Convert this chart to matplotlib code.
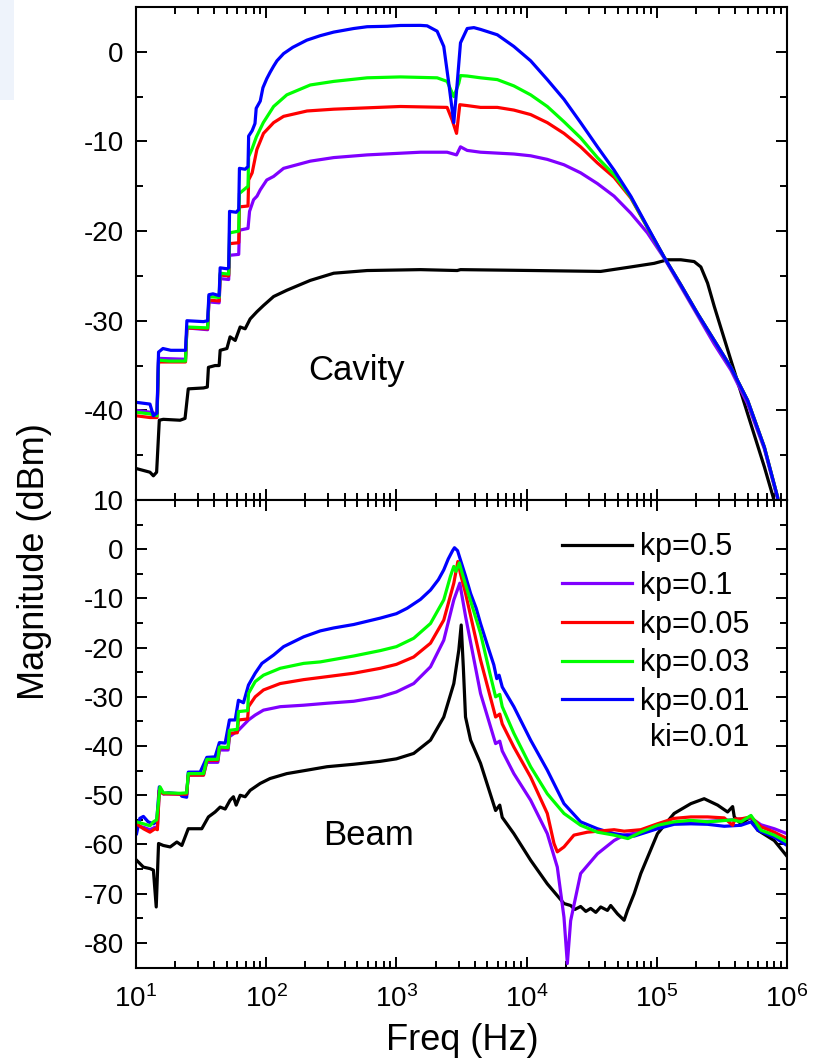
import matplotlib
matplotlib.use('Agg')
import matplotlib.pyplot as plt
from matplotlib.patches import Rectangle
from matplotlib.ticker import MultipleLocator, LogLocator, NullFormatter

# ---------------- data ----------------
labels = ['kp=0.5', 'kp=0.1', 'kp=0.05', 'kp=0.03', 'kp=0.01']
colors = ['#000000', '#8000ff', '#ff0000', '#00ff00', '#0000ff']

# Cavity panel
cav_f_kp05 = [10.1, 12.8, 13.6, 14.4, 15.1, 16.2, 21.8, 23.8, 25.2, 33, 35.3, 36, 40.5, 43.5, 44.3, 49.9,
              52.8, 57.8, 63.1, 68.9, 75.3, 84.8, 95.3, 114, 144, 218, 330, 596, 1530, 2931, 3106,
              11380, 37070, 63100, 95300, 120800, 153000, 193600, 217900, 245400, 276200, 370700,
              498900, 669900, 798000, 850000]
cav_m_kp05 = [-46.5, -46.9, -47.3, -46.9, -41.1, -41.0, -41.1, -40.9, -37.6, -37.5, -37.4, -35.2, -35.0, -35.0, -33.3, -33.1,
              -31.8, -32.2, -30.7, -30.9, -29.8, -29.0, -28.3, -27.3, -26.6, -25.5, -24.7, -24.4, -24.3, -24.4, -24.3,
              -24.4, -24.5, -24.0, -23.6, -23.2, -23.2, -23.4, -24.0, -25.8, -28.4, -34.4,
              -40.4, -46.3, -50.1, -51.5]

cav_f_kp01 = [10.0, 12.8, 14.5, 14.9, 24.0, 24.6, 35.5, 36.3, 43.5, 44.3, 51.5, 52.3, 61.5, 62.3, 72.5, 74.5,
              80, 85, 90, 101, 114, 136, 218, 330, 596, 1530, 2452, 2897, 3106, 3498, 4427, 7980, 10740,
              14420, 19370, 26000, 34990, 46970, 63100, 84700, 113800, 153000, 205600, 276200, 370700,
              498900, 669900, 847200, 880000]
cav_m_kp01 = [-40.0, -40.2, -40.4, -34.2, -34.3, -30.8, -31.0, -27.9, -28.0, -25.3, -25.4, -22.7, -22.6, -19.9, -19.7, -17.8,
              -16.5, -16.1, -15.4, -14.3, -13.9, -13.0, -12.2, -11.8, -11.5, -11.2, -11.2, -11.5, -10.6, -11.0, -11.2, -11.4, -11.6,
              -12.0, -12.6, -13.5, -14.7, -16.1, -18.0, -20.2, -23.0, -26.2, -29.4, -32.6, -35.5,
              -39.3, -44.3, -49.9, -51.5]

cav_f_kp005 = [10.0, 12.8, 14.5, 14.9, 24.0, 24.6, 35.5, 36.3, 43.5, 44.3, 51.5, 52.3, 61.5, 62.3, 72.5, 73.3,
               78, 84.8, 95.3, 114, 136, 206, 330, 1074, 2452, 2679, 2897, 3069, 3498, 4427, 5957, 7980,
               10740, 14420, 19370, 26000, 34990, 46970, 63100, 84700, 113800, 153000, 205600, 276200,
               370700, 498900, 669900, 847200, 880000]
cav_m_kp005 = [-40.6, -40.8, -40.8, -34.6, -34.6, -30.8, -30.9, -27.7, -27.8, -24.9, -25.0, -21.4, -21.3, -17.3, -17.2, -14.3,
               -13.5, -10.9, -9.1, -7.9, -7.2, -6.6, -6.4, -6.1, -6.2, -7.6, -9.1, -5.9, -6.0, -6.2, -6.2, -6.5,
               -7.0, -7.9, -9.1, -10.6, -12.4, -14.0, -16.3, -19.6, -22.9, -26.0, -29.2, -32.2,
               -35.2, -38.9, -44.1, -49.7, -51.5]

cav_f_kp003 = [10.0, 12.8, 14.5, 14.9, 18, 24.0, 24.6, 35.5, 36.3, 43.5, 44.3, 51.5, 52.3, 61.5, 62.3, 72.5,
               73.3, 78, 84, 95, 114, 144, 218, 330, 596, 1074, 2055, 2452, 2760, 3015, 3106, 3498, 4427,
               5957, 7980, 10740, 14420, 19370, 26000, 34990, 46970, 63100, 84700, 113800, 153000, 205600,
               276200, 370700, 498900, 669900, 847200, 880000]
cav_m_kp003 = [-40.2, -40.4, -40.6, -34.4, -34.5, -34.5, -30.7, -30.8, -27.3, -27.4, -24.7, -24.8, -20.2, -20.0, -15.8, -15.0,
               -11.7, -10.8, -9.5, -7.9, -6.1, -4.8, -3.7, -3.3, -2.9, -2.8, -2.9, -3.3, -5.0, -3.5, -2.65, -2.7, -2.9,
               -3.1, -3.8, -4.8, -6.1, -7.8, -9.6, -11.8, -13.7, -16.2, -19.6, -22.9, -26.0, -29.2,
               -32.2, -35.2, -38.9, -44.1, -49.7, -51.5]

cav_f_kp001 = [10.0, 12.8, 13.6, 14.5, 14.9, 16.1, 18.5, 24.0, 24.6, 33, 35.5, 36.3, 39, 43.5, 44.3, 49.9,
               51.5, 52.3, 58.8, 61.5, 62.3, 68.9, 72.5, 73.3, 78, 82, 83.8, 90, 94.4, 101, 107, 114, 121, 136,
               160, 205, 260, 330, 470, 596, 848, 1074, 1530, 1722, 2055, 2311, 2525, 2760, 2931, 3106, 3498,
               3936, 4427, 5957, 7980, 10740, 14420, 19370, 26000, 34990, 46970, 63100, 84700, 113800, 153000,
               205600, 276200, 370700, 498900, 669900, 847200, 880000]
cav_m_kp001 = [-39.1, -39.3, -40.6, -40.3, -33.5, -33.1, -33.3, -33.3, -30.0, -30.1, -30.0, -27.1, -27.0, -27.2, -24.1, -24.2,
               -24.1, -17.8, -17.9, -17.6, -13.0, -13.1, -12.8, -9.4, -8.8, -8.0, -6.3, -5.5, -4.0, -3.0, -2.3, -1.6, -1.0, -0.2,
               0.5, 1.3, 1.8, 2.2, 2.6, 2.8, 2.85, 2.94, 2.95, 2.9, 2.3, 0.6, -3.5, -7.9, -3.5, 1.0, 2.6,
               2.7, 2.5, 1.9, 0.6, -1.0, -3.1, -5.3, -7.9, -10.6, -13.2, -16.1, -19.5, -22.9, -26.0,
               -29.2, -32.2, -35.2, -38.9, -44.1, -49.7, -51.5]

# Beam panel
beam_f_kp05 = [10.1, 11.4, 12.8, 13.6, 14.3, 14.9, 16.2, 18.3, 20.6, 22.5, 25.2, 29.3, 32, 36, 40.5, 44.3,
               48.4, 52.8, 56, 58.8, 63.1, 68.9, 75.3, 89.9, 107, 144, 206, 293, 470, 753, 1000, 1358, 1827, 2311,
               2760, 3015, 3146, 3265, 3395, 3715, 4427, 5779, 6220, 6500, 7980, 10740, 14420, 19370, 21790,
               23500, 26000, 28500, 31050, 34000, 37070, 41770, 44260, 49890, 56100, 59550, 66990, 75370,
               101200, 135800, 182700, 231100, 293100, 349900, 382300, 393600, 442600, 528800, 595700,
               798000, 1000000]
beam_m_kp05 = [-63.2, -64.6, -64.9, -65.2, -72.7, -59.8, -60.2, -60.5, -59.5, -60.2, -56.8, -56.8, -56.8, -54.4, -53.4, -52.4,
               -52.8, -51.0, -50.3, -52.0, -50.0, -50.3, -49.0, -47.6, -46.6, -45.6, -44.9, -44.2, -43.7, -43.1, -42.6, -41.5, -38.8, -34.1,
               -27.3, -20.5, -15.4, -23.9, -34.1, -38.8, -43.5, -53.1, -52.0, -54.5, -57.8, -63.2, -68.0, -72.0, -72.4,
               -73.2, -72.6, -73.6, -73.0, -73.8, -72.7, -73.4, -72.4, -74.1, -75.4, -73.4, -70.0, -65.9,
               -57.8, -53.7, -51.7, -50.7, -52.0, -53.4, -52.3, -54.4, -55.8, -54.4, -57.1,
               -59.2, -62.4]

beam_f_kp01 = [10.1, 11.4, 12.8, 14.0, 14.6, 15.1, 16.2, 24.5, 25.2, 33, 35, 42.5, 43.7, 51, 52.2, 61.2,
               73.1, 82.3, 95.3, 128, 194, 293, 470, 753, 1000, 1358, 1827, 2311, 2760, 3069, 3400, 4427, 5779,
               6220, 6500, 7980, 10740, 14420, 17210, 19370, 20550, 21790, 26000, 34990, 46970, 56100,
               75370, 101200, 135800, 182700, 245400, 382300, 528800, 631000, 798000, 1000000]
beam_m_kp01 = [-56.2, -56.5, -57.0, -56.5, -56.5, -49.0, -49.7, -49.8, -45.9, -45.9, -43.3, -43.3, -40.8, -40.8, -38.1, -36.8,
               -34.7, -33.7, -32.7, -32.0, -31.7, -31.3, -30.9, -30.0, -29.0, -27.3, -23.9, -18.5, -10.3, -6.9, -13.7, -29.3, -39.5,
               -39.0, -41.0, -45.6, -51.0, -57.8, -64.6, -74.8, -84.2, -75.5, -65.9, -61.9, -59.2, -58.1,
               -57.5, -56.3, -55.6, -55.3, -55.3, -55.0, -54.6, -56.0, -56.8, -57.8]

beam_f_kp005 = [10.1, 11.4, 12.8, 14.0, 14.6, 15.1, 16.2, 24.5, 25.2, 33, 35, 42.5, 43.7, 51, 52.2, 60,
                61.2, 72, 73.1, 82.3, 95.3, 128, 194, 293, 470, 753, 1000, 1358, 1827, 2311, 2760, 2964, 3106,
                3400, 4427, 5200, 5779, 6220, 6500, 7980, 10740, 14420, 16230, 17210, 19370, 23100, 29310,
                46970, 56100, 75370, 101200, 135800, 182700, 245400, 329600, 382300, 400000, 442600, 528800,
                631000, 798000, 1000000]
beam_m_kp005 = [-55.8, -56.8, -57.5, -56.8, -57.0, -49.0, -49.7, -49.8, -45.9, -45.9, -42.9, -42.9, -40.3, -40.4, -37.4, -37.3,
                -34.7, -34.5, -32.0, -30.0, -28.6, -27.3, -26.5, -25.9, -25.2, -24.2, -23.4, -21.9, -19.1, -14.4, -6.9, -2.5, -5.0,
                -9.0, -22.5, -29.5, -34.1, -33.5, -35.5, -40.2, -46.3, -53.7, -59.8, -61.5, -60.5, -58.1, -57.5,
                -57.0, -57.3, -57.0, -55.8, -54.7, -54.4, -54.4, -54.6, -56.1, -54.8, -54.8, -54.4,
                -56.4, -57.5, -58.8]

beam_f_kp003 = [10.1, 11.4, 12.8, 13.6, 14.4, 15.3, 16.2, 21.8, 24.5, 25.2, 33, 35, 42.5, 43.7, 51, 52.2,
                60, 61.2, 72, 73.1, 82.3, 95.3, 128, 194, 260, 470, 753, 1000, 1358, 1827, 2311, 2600, 2760, 2870,
                3040, 3250, 3500, 4427, 5200, 5779, 6220, 6500, 7980, 10740, 14420, 19370, 26000, 34990,
                46970, 60000, 75370, 101200, 135800, 182700, 245400, 382300, 442600, 528800, 631000, 798000,
                1000000]
beam_m_kp003 = [-55.4, -55.8, -56.2, -55.4, -55.0, -48.3, -49.5, -49.6, -49.5, -45.6, -45.6, -42.7, -42.7, -40.2, -40.3, -36.8,
                -36.6, -33.0, -32.8, -29.3, -26.9, -25.6, -24.2, -23.2, -22.9, -21.7, -20.6, -19.8, -18.1, -15.1, -10.3, -5.5, -3.5, -4.5,
                -2.8, -5.5, -8.3, -17.1, -25.0, -30.0, -29.5, -32.0, -37.4, -44.2, -49.7, -53.7, -56.1, -57.5,
                -58.1, -58.8, -57.5, -56.1, -55.4, -55.1, -55.4, -55.0, -55.4, -54.1, -57.1, -58.1,
                -59.5]

beam_f_kp001 = [10.1, 10.7, 11.4, 12.4, 13.6, 14.4, 15.1, 16.2, 17.7, 21.8, 22.5, 24.5, 25.2, 31.1, 35, 40.5,
                43.7, 48.4, 52.2, 57.8, 61.2, 66.9, 73.1, 82.3, 92.7, 114, 136, 194, 260, 330, 470, 753, 1000, 1209,
                1530, 1827, 2100, 2311, 2500, 2700, 2793, 2950, 3106, 3400, 3715, 4100, 4427, 5000, 5600,
                5900, 6150, 6500, 7980, 10740, 14420, 19370, 26000, 34990, 46970, 56100, 66990, 101200,
                135800, 182700, 245400, 329600, 442600, 528800, 595700, 798000, 1000000]
beam_m_kp001 = [-57.8, -54.7, -54.3, -55.4, -55.8, -55.4, -48.3, -49.7, -49.5, -49.7, -50.2, -50.4, -45.3, -45.3, -42.3, -42.2,
                -39.3, -39.4, -34.7, -34.7, -30.7, -31.2, -27.6, -25.2, -23.2, -21.5, -19.8, -17.8, -16.6, -16.0, -15.3, -14.0, -13.1, -12.0,
                -10.2, -8.3, -6.2, -4.2, -2.0, -0.3, 0.3, -0.3, -2.2, -5.5, -9.0, -12.0, -15.1, -19.5, -23.5,
                -26.3, -25.6, -28.0, -32.0, -38.8, -44.9, -51.7, -55.4, -56.8, -57.8, -58.1, -58.3, -56.8,
                -55.9, -55.8, -55.9, -56.3, -56.1, -55.4, -57.1, -58.5, -60.2]

cavity_freq = [cav_f_kp05, cav_f_kp01, cav_f_kp005, cav_f_kp003, cav_f_kp001]
cavity_mag = [cav_m_kp05, cav_m_kp01, cav_m_kp005, cav_m_kp003, cav_m_kp001]
beam_freq = [beam_f_kp05, beam_f_kp01, beam_f_kp005, beam_f_kp003, beam_f_kp001]
beam_mag = [beam_m_kp05, beam_m_kp01, beam_m_kp005, beam_m_kp003, beam_m_kp001]

# ---------------- style ----------------
plt.rcParams['font.family'] = ['Liberation Sans', 'DejaVu Sans']
plt.rcParams['mathtext.fontset'] = 'custom'
plt.rcParams['mathtext.rm'] = 'Liberation Sans'
plt.rcParams['mathtext.it'] = 'Liberation Sans:italic'
plt.rcParams['mathtext.bf'] = 'Liberation Sans:bold'
plt.rcParams['axes.unicode_minus'] = False

W_PX, H_PX = 821, 1064
fig = plt.figure(figsize=(W_PX / 100, H_PX / 100), dpi=100)

# faint bluish corner seen in the reference screenshot
fig.patches.append(Rectangle((0, 1 - 100 / H_PX), 14 / W_PX, 100 / H_PX,
                             transform=fig.transFigure, facecolor='#eef3fb',
                             edgecolor='none', zorder=0))

left = 136 / W_PX
width = (787 - 136) / W_PX
ax1 = fig.add_axes([left, 1 - 500 / H_PX, width, 493 / H_PX])
ax2 = fig.add_axes([left, 1 - 967.5 / H_PX, width, 467.5 / H_PX])

lw = 2.3
for i in range(5):
    ax1.plot(cavity_freq[i], cavity_mag[i], color=colors[i], lw=lw, label=labels[i],
             solid_joinstyle='round')

beam_order = [0, 1, 4, 2, 3]
handles = {}
for i in beam_order:
    h, = ax2.plot(beam_freq[i], beam_mag[i], color=colors[i], lw=lw, label=labels[i],
                  solid_joinstyle='round')
    handles[i] = h

for ax in (ax1, ax2):
    ax.set_xscale('log')
    ax.set_xlim(10, 1e6)
    ax.xaxis.set_major_locator(LogLocator(base=10, numticks=10))
    ax.xaxis.set_minor_locator(LogLocator(base=10, subs=range(2, 10), numticks=20))
    ax.xaxis.set_minor_formatter(NullFormatter())
    ax.yaxis.set_minor_locator(MultipleLocator(5))
    ax.tick_params(which='both', direction='in', top=True, right=True, width=1.4,
                   labelsize=20, colors='black')
    ax.tick_params(which='major', length=8)
    ax.tick_params(which='minor', length=5)
    ax.tick_params(axis='y', pad=9)
    ax.tick_params(axis='x', pad=13)
    for s in ax.spines.values():
        s.set_linewidth(1.5)

ax1.set_ylim(-50, 5)
ax1.set_yticks([-40, -30, -20, -10, 0])
ax1.tick_params(labelbottom=False)

ax2.set_ylim(-85, 10)
ax2.set_yticks([-80, -70, -60, -50, -40, -30, -20, -10, 0, 10])

ax1.text(492, -36.65, 'Cavity', fontsize=25, ha='center', va='baseline')
ax2.text(613, -60.2, 'Beam', fontsize=25, ha='center', va='baseline')

leg = ax2.legend([handles[i] for i in range(5)], labels, loc='upper left',
                 bbox_to_anchor=(0.654, 0.931), frameon=False, fontsize=22,
                 handlelength=2.3, handletextpad=0.25, labelspacing=0.285,
                 borderpad=0, borderaxespad=0)
ax2.text(0.7896, 0.491, 'ki=0.01', transform=ax2.transAxes, fontsize=22,
         ha='left', va='center')

fig.text(34 / W_PX, 1 - 562 / H_PX, 'Magnitude (dBm)', rotation=90, fontsize=26,
         ha='center', va='center')
fig.text(462 / W_PX, 1 - 1041 / H_PX, 'Freq (Hz)', fontsize=26, ha='center', va='center')

fig.savefig('out.png', dpi=100)
